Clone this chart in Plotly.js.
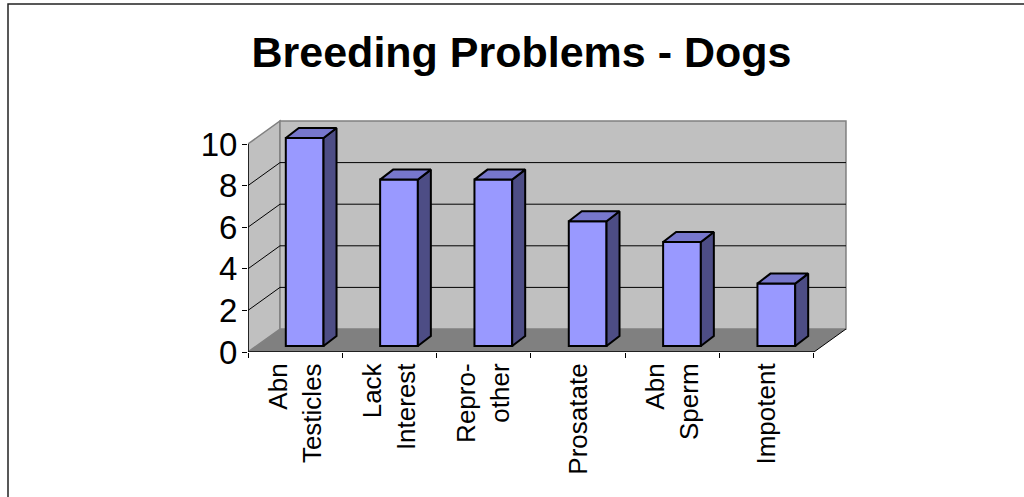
<!DOCTYPE html>
<html>
<head>
<meta charset="utf-8">
<script src="https://cdn.plot.ly/plotly-3.0.1.min.js"></script>
<style>
  html, body { margin: 0; padding: 0; background: #ffffff; }
  #chart { width: 1024px; height: 497px; }
</style>
</head>
<body>
<div id="chart"></div>
<script>
// Breeding problems reported in dogs (counts per category)
const categories = ["Abn<br>Testicles", "Lack<br>Interest", "Repro-<br>other", "Prosatate", "Abn<br>Sperm", "Impotent"];
const counts = [10, 8, 8, 6, 5, 3];
const yTicks = [0, 2, 4, 6, 8, 10];
const yMax = 10;

// Figure geometry
const W = 1024, H = 497;
const margin = { l: 248, r: 172, t: 116, b: 145, pad: 0 };
const plotW = W - margin.l - margin.r;
const plotH = H - margin.t - margin.b;
const xRange = [0, 6.403];
const yRange = [0, 11.346];
const pxX = plotW / (xRange[1] - xRange[0]);   // pixels per category
const pxY = plotH / (yRange[1] - yRange[0]);   // pixels per count

// 3-D look: depth offsets expressed in pixels, converted to axis units
const wallDX = 32 / pxX, wallDY = 23 / pxY;       // depth of the floor / side wall
const barShiftX = 9.5 / pxX, barShiftY = 6 / pxY; // bar front face position inside the box
const barDX = 13 / pxX, barDY = 10 / pxY;         // depth of each column
const barWidth = 0.40;

const n = categories.length;
const centers = categories.map((_, i) => i + 0.5);

// Column tops and right-hand sides as filled polygons
const topX = [], topY = [], sideX = [], sideY = [];
counts.forEach((v, i) => {
  const xl = centers[i] + barShiftX - barWidth / 2;
  const xr = centers[i] + barShiftX + barWidth / 2;
  const b = barShiftY, t = v + barShiftY;
  topX.push(xl, xr, xr + barDX, xl + barDX, xl, null);
  topY.push(t, t, t + barDY, t + barDY, t, null);
  sideX.push(xr, xr + barDX, xr + barDX, xr, xr, null);
  sideY.push(b, b + barDY, t + barDY, t, b, null);
});

const traces = [
  {
    type: "bar",
    x: centers.map(c => c + barShiftX),
    y: counts,
    base: counts.map(() => barShiftY),
    width: barWidth,
    marker: { color: "#9999ff", line: { color: "#000000", width: 2 } },
    hoverinfo: "skip",
    showlegend: false
  },
  {
    type: "scatter", mode: "lines",
    x: sideX, y: sideY, fill: "toself", fillcolor: "#4d4d85",
    line: { color: "#000000", width: 2 }, hoverinfo: "skip", showlegend: false
  },
  {
    type: "scatter", mode: "lines",
    x: topX, y: topY, fill: "toself", fillcolor: "#7777cc",
    line: { color: "#000000", width: 2 }, hoverinfo: "skip", showlegend: false
  },
  {
    // carries the category label axis
    type: "scatter", mode: "markers", x: [centers[0]], y: [null],
    xaxis: "x2", hoverinfo: "skip", showlegend: false
  }
];

// Walls, floor, gridlines and axis lines
const shapes = [];
// left side wall
shapes.push({ type: "path", layer: "below", xref: "x", yref: "y",
  path: `M0,0 L0,${yMax} L${wallDX},${yMax + wallDY} L${wallDX},${wallDY} Z`,
  fillcolor: "#c0c0c0", line: { color: "#808080", width: 1.5 } });
// back wall
shapes.push({ type: "path", layer: "below", xref: "x", yref: "y",
  path: `M${wallDX},${wallDY} L${n + wallDX},${wallDY} L${n + wallDX},${yMax + wallDY} L${wallDX},${yMax + wallDY} Z`,
  fillcolor: "#c0c0c0", line: { color: "#808080", width: 1.5 } });
// floor
shapes.push({ type: "path", layer: "below", xref: "x", yref: "y",
  path: `M0,0 L${n},0 L${n + wallDX},${wallDY} L${wallDX},${wallDY} Z`,
  fillcolor: "#808080", line: { width: 0 } });
// floor right edge
shapes.push({ type: "line", layer: "below", xref: "x", yref: "y",
  x0: n, y0: 0, x1: n + wallDX, y1: wallDY, line: { color: "#000000", width: 1 } });
// gridlines on the back and side walls
yTicks.filter(v => v > 0 && v < yMax).forEach(v => {
  shapes.push({ type: "line", layer: "below", xref: "x", yref: "y",
    x0: wallDX, y0: v + wallDY, x1: n + wallDX, y1: v + wallDY, line: { color: "#000000", width: 1 } });
  shapes.push({ type: "line", layer: "below", xref: "x", yref: "y",
    x0: 0, y0: v, x1: wallDX, y1: v + wallDY, line: { color: "#000000", width: 1 } });
});
// value axis line and category axis line
shapes.push({ type: "line", layer: "above", xref: "x", yref: "y",
  x0: 0, y0: 0, x1: 0, y1: yMax, line: { color: "#000000", width: 1.5 } });
shapes.push({ type: "line", layer: "above", xref: "x", yref: "y",
  x0: 0, y0: 0, x1: n, y1: 0, line: { color: "#000000", width: 1.5 } });
// outer chart frame
shapes.push({ type: "rect", layer: "below", xref: "paper", yref: "paper",
  x0: (8 - margin.l) / plotW, x1: 1.6,
  y0: -1.0, y1: (H - margin.b - 4) / plotH,
  fillcolor: "rgba(0,0,0,0)", line: { color: "#222222", width: 1.5 } });

const font = "Liberation Sans, Arial, Helvetica, sans-serif";

const layout = {
  width: W, height: H,
  margin: margin,
  paper_bgcolor: "#ffffff",
  plot_bgcolor: "rgba(0,0,0,0)",
  showlegend: false,
  bargap: 0,
  font: { family: font, color: "#000000" },
  title: {
    text: "Breeding Problems - Dogs",
    font: { family: font, size: 43, color: "#000000", weight: "bold" },
    xref: "container", x: 521.5 / W, xanchor: "center",
    yref: "container", y: 1 - 52 / H, yanchor: "middle"
  },
  xaxis: {
    range: xRange, showgrid: false, zeroline: false, showline: false,
    tickmode: "array", tickvals: Array.from({ length: n + 1 }, (_, i) => i),
    ticktext: Array.from({ length: n + 1 }, () => ""),
    ticks: "outside", ticklen: 5, tickwidth: 1, tickcolor: "#000000",
    fixedrange: true
  },
  xaxis2: {
    overlaying: "x", anchor: "y", side: "bottom",
    range: xRange, showgrid: false, zeroline: false, showline: false,
    tickmode: "array", tickvals: centers, ticktext: categories,
    ticks: "outside", ticklen: 0, tickcolor: "rgba(0,0,0,0)",
    tickangle: -90, tickfont: { family: font, size: 26, color: "#000000" },
    fixedrange: true
  },
  yaxis: {
    range: yRange, showgrid: false, zeroline: false, showline: false,
    tickmode: "array", tickvals: yTicks, ticktext: yTicks.map(String),
    ticks: "outside", ticklen: 5, tickwidth: 1, tickcolor: "#000000",
    ticklabelstandoff: -2,
    tickfont: { family: font, size: 33, color: "#000000" },
    fixedrange: true
  },
  shapes: shapes
};

Plotly.newPlot("chart", traces, layout, { staticPlot: true, displayModeBar: false });
</script>
</body>
</html>
